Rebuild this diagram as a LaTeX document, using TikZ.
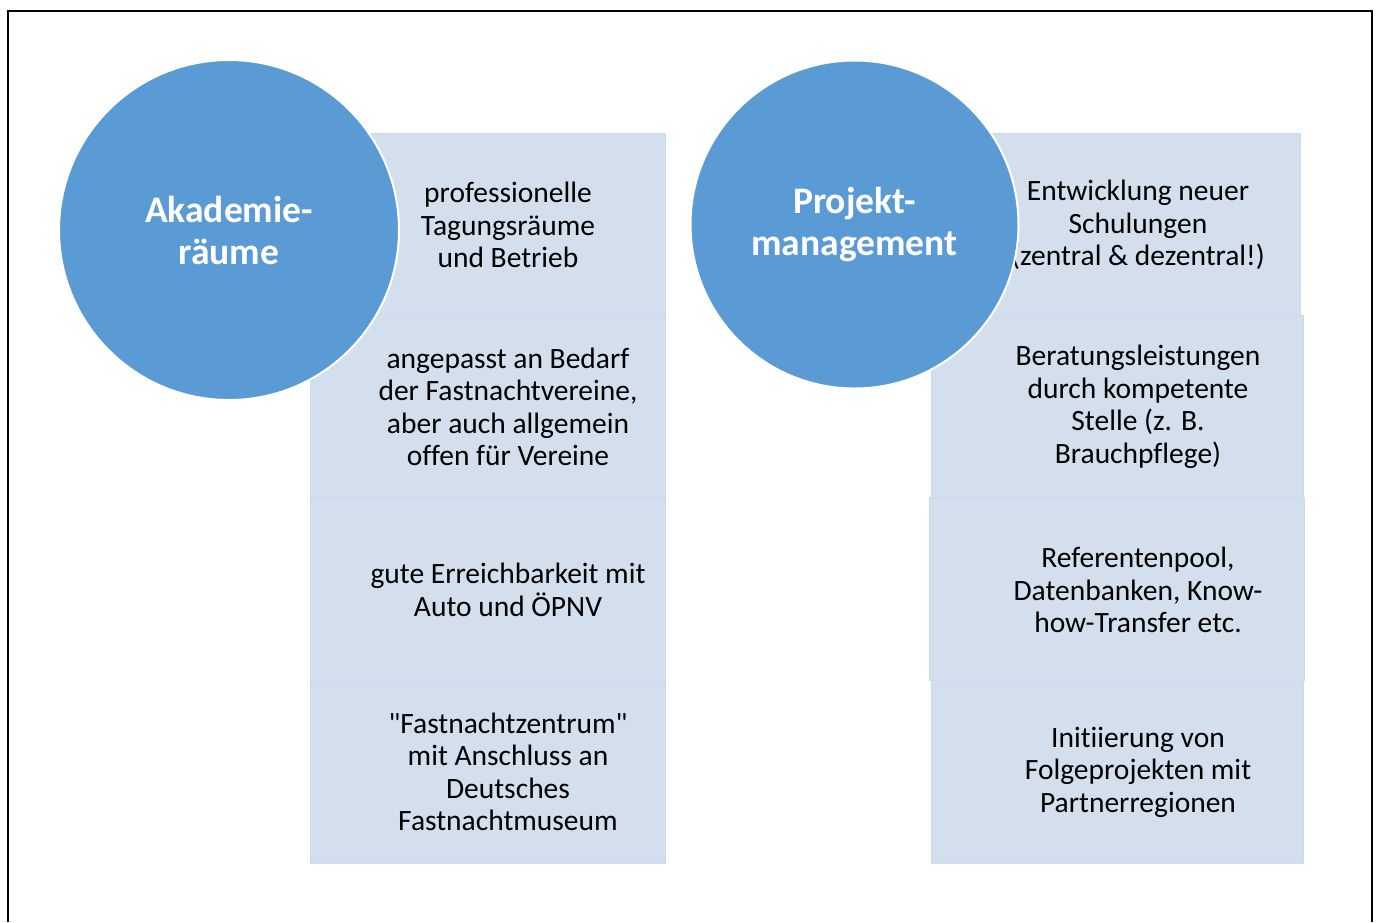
\documentclass[tikz,border=0pt]{standalone}
\usepackage{fontspec}
\setmainfont{Carlito}[Ligatures={NoCommon}]
% straight double quote, bypassing the TeX quote mapping
\newcommand{\straightquote}{\XeTeXglyph\XeTeXcharglyph"22\relax}
\definecolor{circblue}{HTML}{5B9BD5}
\definecolor{boxfill}{HTML}{D4DFEE}
\definecolor{boxline}{HTML}{CCDAEE}
\begin{document}
\begin{tikzpicture}[x=1pt,y=-1pt,
  box/.style={draw=boxline, line width=1pt, fill=boxfill, anchor=north west, inner sep=0pt},
  boxtext/.style={align=center, text=black, inner sep=0pt, font=\fontsize{29.5}{32.5}\selectfont},
  topic/.style={circle, fill=circblue, draw=white, line width=2pt, inner sep=0pt,
    align=center, text=white, font=\fontsize{37.5}{42}\selectfont\bfseries}]
  \useasboundingbox (0,0) rectangle (1378,922);
  % outer frame (its lower edge lies below the page)
  \draw[line width=2pt] (8,922) -- (8,11) -- (1372,11) -- (1372,922);

  % left column of boxes
  \node[box, minimum width=355, minimum height=182] (a1) at (310,133) {};
  \node[box, minimum width=355, minimum height=182] (a2) at (310,315) {};
  \node[box, minimum width=355, minimum height=183] (a3) at (310,497) {};
  \node[box, minimum width=355, minimum height=183] (a4) at (310,680) {};
  % right column of boxes
  \node[box, minimum width=369, minimum height=182] (p1) at (931,133) {};
  \node[box, minimum width=372, minimum height=182] (p2) at (931,315) {};
  \node[box, minimum width=375, minimum height=183] (p3) at (929,497) {};
  \node[box, minimum width=372, minimum height=183] (p4) at (931,680) {};

  % box texts
  \node[boxtext] (a1t) at (508,225) {professionelle\\Tagungsräume\\und Betrieb};
  \node[boxtext] (a2t) at (508,407) {angepasst an Bedarf\\der Fastnachtvereine,\\aber auch allgemein\\offen für Vereine};
  \node[boxtext] (a3t) at (508,590) {gute Erreichbarkeit mit\\Auto und ÖPNV};
  \node[boxtext] (a4t) at (508,772) {\straightquote Fastnachtzentrum\straightquote\\mit Anschluss an\\Deutsches\\Fastnachtmuseum};

  \node[boxtext] (p1t) at (1138,225) {Entwicklung neuer\\Schulungen\\(zentral \& dezentral!)};
  \node[boxtext] (p2t) at (1138,407) {Beratungsleistungen\\durch kompetente\\Stelle (z. B.\\Brauchpflege)};
  \node[boxtext] (p3t) at (1138,590) {Referentenpool,\\Datenbanken, Know-\\how-Transfer etc.};
  \node[boxtext] (p4t) at (1138,772) {Initiierung von\\Folgeprojekten mit\\Partnerregionen};

  % topic circles on top
  \node[topic, minimum size=340] (akad) at (229,230) {Akademie-\\räume};
  \node[topic, minimum size=328] (proj) at (854.5,224.5) {Projekt-\\management};
\end{tikzpicture}
\end{document}
